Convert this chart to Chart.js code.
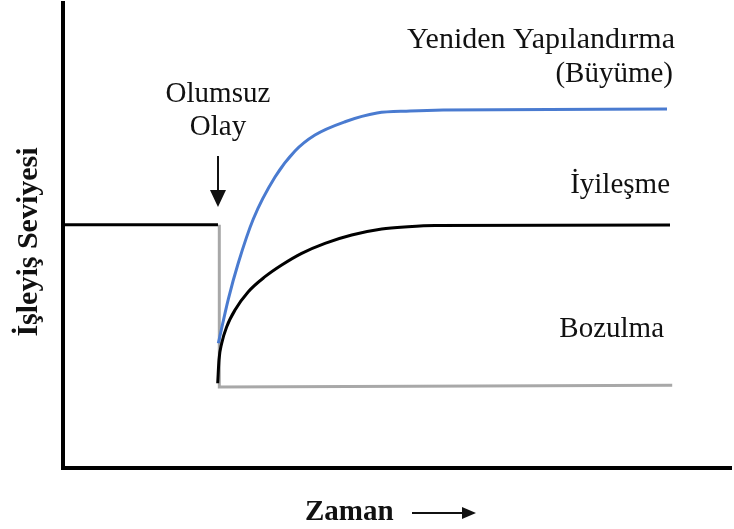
<!DOCTYPE html>
<html>
<head>
<meta charset="utf-8">
<script src="https://cdn.jsdelivr.net/npm/chart.js@4.4.1/dist/chart.umd.min.js"></script>
<style>
  html, body { margin: 0; padding: 0; background: #fff; }
  #wrap { width: 734px; height: 529px; }
</style>
</head>
<body>
<div id="wrap"><canvas id="resilienceChart" width="734" height="529"></canvas></div>
<script>
// time runs 0..100, functioning level 0..100 (no ticks shown)
const baselineX = [0, 23.2];
const baselineY = [52.3, 52.3];

const declineX = [23.4, 23.4, 91.2];
const declineY = [52.3, 17.4, 17.8];

const recoveryX = [23.16, 23.35, 23.76, 24.51, 25.75, 27.74, 30.24, 32.74, 35.73, 39.22, 43.22, 47.71, 51.65, 55.69, 90.87];
const recoveryY = [18.22, 23.23, 26.82, 30.39, 33.98, 37.91, 41.14, 43.66, 46.17, 48.32, 50.11, 51.4, 51.89, 52.15, 52.26];

const growthX = [23.25, 24.75, 26.24, 28.49, 31.74, 34.73, 37.72, 42.22, 47.01, 51.95, 56.89, 90.42];
const growthY = [26.82, 36.34, 44.09, 53.55, 62.58, 68.17, 71.61, 74.47, 76.34, 76.77, 76.99, 77.2];

const eventLabel = ['Olumsuz', 'Olay'];
const growthLabel = ['Yeniden Yapılandırma', '(Büyüme)'];
const recoveryLabel = 'İyileşme';
const declineLabel = 'Bozulma';
const xTitle = 'Zaman';
const yTitle = 'İşleyiş Seviyesi';

function toPoints(xs, ys) {
    return xs.map((x, i) => ({ x: x, y: ys[i] }));
}

const serif = '"Liberation Serif", "Times New Roman", serif';

// text + arrows drawn on top of the plot
const annotationPlugin = {
    id: 'annotations',
    afterDraw(chart) {
        const ctx = chart.ctx;
        const x = chart.scales.x;
        ctx.save();
        ctx.fillStyle = '#111';
        ctx.strokeStyle = '#111';
        ctx.textBaseline = 'alphabetic';

        ctx.font = '29px ' + serif;
        ctx.textAlign = 'center';
        const evX = x.getPixelForValue(23.2);
        ctx.fillText(eventLabel[0], evX, 102);
        ctx.fillText(eventLabel[1], evX, 135);

        // down arrow to the event
        ctx.lineWidth = 2;
        ctx.beginPath();
        ctx.moveTo(evX, 156);
        ctx.lineTo(evX, 195);
        ctx.stroke();
        ctx.beginPath();
        ctx.moveTo(evX - 8, 190);
        ctx.lineTo(evX + 8, 190);
        ctx.lineTo(evX, 207);
        ctx.closePath();
        ctx.fill();

        ctx.textAlign = 'right';
        ctx.font = '30px ' + serif;
        ctx.fillText(growthLabel[0], 675, 48);
        ctx.font = '29px ' + serif;
        ctx.fillText(growthLabel[1], 673, 82);
        ctx.fillText(recoveryLabel, 670, 193);
        ctx.fillText(declineLabel, 664, 337);

        // axis titles
        ctx.font = 'bold 29px ' + serif;
        ctx.textAlign = 'left';
        ctx.fillText(xTitle, 305, 520);
        ctx.lineWidth = 2;
        ctx.beginPath();
        ctx.moveTo(412, 513);
        ctx.lineTo(465, 513);
        ctx.stroke();
        ctx.beginPath();
        ctx.moveTo(462, 507);
        ctx.lineTo(476, 513);
        ctx.lineTo(462, 519);
        ctx.closePath();
        ctx.fill();

        ctx.font = 'bold 30px ' + serif;
        ctx.translate(37, 242);
        ctx.rotate(-Math.PI / 2);
        ctx.textAlign = 'center';
        ctx.fillText(yTitle, 0, 0);
        ctx.restore();
    }
};

const ctx = document.getElementById('resilienceChart').getContext('2d');
new Chart(ctx, {
    type: 'line',
    data: {
        datasets: [
            {
                data: toPoints(growthX, growthY),
                borderColor: '#4a7bd0',
                borderWidth: 3,
                cubicInterpolationMode: 'monotone',
                pointRadius: 0,
                order: 1
            },
            {
                data: toPoints(recoveryX, recoveryY),
                borderColor: '#000',
                borderWidth: 3,
                cubicInterpolationMode: 'monotone',
                pointRadius: 0,
                order: 2
            },
            {
                data: toPoints(baselineX, baselineY),
                borderColor: '#000',
                borderWidth: 3,
                tension: 0,
                pointRadius: 0,
                order: 3
            },
            {
                data: toPoints(declineX, declineY),
                borderColor: '#a8a8a8',
                borderWidth: 3,
                tension: 0,
                pointRadius: 0,
                order: 4
            }
        ]
    },
    options: {
        responsive: false,
        animation: false,
        layout: { padding: { left: 63, top: 3, right: 3, bottom: 61 } },
        plugins: {
            legend: { display: false },
            tooltip: { enabled: false }
        },
        scales: {
            x: {
                type: 'linear',
                min: 0,
                max: 100,
                ticks: { display: false },
                grid: { display: false, drawTicks: false },
                border: { display: true, color: '#000', width: 4 }
            },
            y: {
                min: 0,
                max: 100,
                ticks: { display: false },
                grid: { display: false, drawTicks: false },
                border: { display: true, color: '#000', width: 4 }
            }
        }
    },
    plugins: [annotationPlugin]
});
</script>
</body>
</html>
